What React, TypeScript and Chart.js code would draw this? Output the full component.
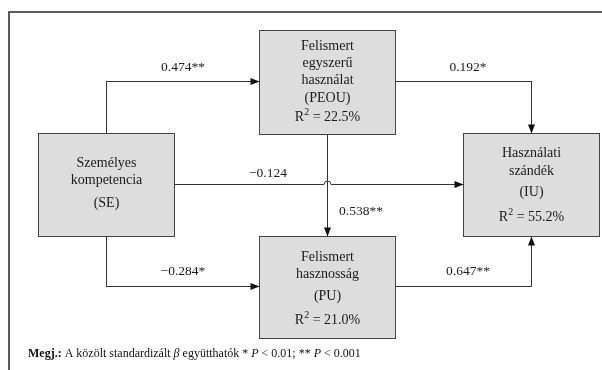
import React, { useEffect, useRef } from "react";
import { Chart, registerables } from "chart.js";

Chart.register(...registerables);

// ---- data ----
const nodeCodes = ["SE", "PEOU", "PU", "IU"];
const nodeNames = [
  ["Személyes", "kompetencia"],
  ["Felismert", "egyszerű", "használat"],
  ["Felismert", "hasznosság"],
  ["Használati", "szándék"],
];
const rSquared: (number | null)[] = [null, 22.5, 21.0, 55.2];

const pathFrom = ["SE", "SE", "SE", "PEOU", "PEOU", "PU"];
const pathTo = ["PEOU", "PU", "IU", "IU", "PU", "IU"];
const pathBeta = [0.474, -0.284, -0.124, 0.192, 0.538, 0.647];
const pathStars = ["**", "*", "", "*", "**", "**"];

const noteBold = "Megj.:";
const noteParts: [string, boolean][] = [
  [" A közölt standardizált ", false],
  ["β", true],
  [" együtthatók * ", false],
  ["P", true],
  [" < 0.01; ** ", false],
  ["P", true],
  [" < 0.001", false],
];

// ---- layout (positions in diagram units, kept separate from data) ----
const boxLayout: Record<string, { x: number; y: number; w: number; h: number; lines: number[] }> = {
  SE: { x: 38.5, y: 133.5, w: 136, h: 103, lines: [163, 180, 203] },
  PEOU: { x: 259.5, y: 30.5, w: 136, h: 104, lines: [46, 63, 80, 98, 117] },
  PU: { x: 259.5, y: 236.5, w: 136, h: 102, lines: [257, 274, 296, 320] },
  IU: { x: 463.5, y: 133.5, w: 136, h: 103, lines: [153, 171, 192, 217] },
};
const routes: { x: number; y: number }[][] = [
  [{ x: 106.5, y: 133.5 }, { x: 106.5, y: 81.5 }, { x: 259.5, y: 81.5 }],
  [{ x: 106.5, y: 236.5 }, { x: 106.5, y: 286.5 }, { x: 259.5, y: 286.5 }],
  [{ x: 174.5, y: 184.5 }, { x: 463.5, y: 184.5 }],
  [{ x: 395.5, y: 81.5 }, { x: 531.5, y: 81.5 }, { x: 531.5, y: 133.5 }],
  [{ x: 327.5, y: 134.5 }, { x: 327.5, y: 236.5 }],
  [{ x: 395.5, y: 286.5 }, { x: 531.5, y: 286.5 }, { x: 531.5, y: 236.5 }],
];
const labelPos = [
  { x: 183, y: 67 },
  { x: 183, y: 271 },
  { x: 268, y: 173 },
  { x: 468, y: 67 },
  { x: 361, y: 211 },
  { x: 468, y: 271 },
];
const hop = { x: 327.5, y: 184.5, r: 3.5 };
const notePos = { x: 28, y: 354 };

const FONT = "'Liberation Serif', 'Times New Roman', serif";
const BOX_FONT = 14;
const LABEL_FONT = 13.5;

function fmtBeta(v: number) {
  const s = Math.abs(v).toFixed(3);
  return (v < 0 ? "\u2212" : "") + s;
}

function routeData(i: number) {
  const r = routes[i];
  if (pathFrom[i] === "SE" && pathTo[i] === "IU") {
    return [
      r[0],
      { x: hop.x - hop.r, y: r[0].y },
      { x: hop.x, y: null as any },
      { x: hop.x + hop.r, y: r[1].y },
      r[1],
    ];
  }
  return r;
}

const diagramPlugin = {
  id: "pathDiagram",
  beforeDatasetsDraw(chart: any) {
    const { ctx, scales } = chart;
    const X = (v: number) => scales.x.getPixelForValue(v);
    const Y = (v: number) => scales.y.getPixelForValue(v);
    ctx.save();
    ctx.strokeStyle = "#5a5a5a";
    ctx.lineWidth = 2;
    ctx.strokeRect(X(9), Y(12), X(800) - X(9), Y(600) - Y(12));
    nodeCodes.forEach((code, i) => {
      const b = boxLayout[code];
      ctx.fillStyle = "#dddddd";
      ctx.fillRect(X(b.x), Y(b.y), X(b.x + b.w) - X(b.x), Y(b.y + b.h) - Y(b.y));
      ctx.strokeStyle = "#444444";
      ctx.lineWidth = 1;
      ctx.strokeRect(X(b.x), Y(b.y), X(b.x + b.w) - X(b.x), Y(b.y + b.h) - Y(b.y));
      const cx = X(b.x + b.w / 2);
      ctx.fillStyle = "#1a1a1a";
      ctx.textAlign = "center";
      ctx.textBaseline = "middle";
      ctx.font = `${BOX_FONT}px ${FONT}`;
      const lines = [...nodeNames[i], `(${code})`];
      lines.forEach((t, k) => ctx.fillText(t, cx, Y(b.lines[k])));
      const r2 = rSquared[i];
      if (r2 !== null) {
        const yy = Y(b.lines[lines.length]);
        const a = "R";
        const sup = "2";
        const rest = ` = ${r2.toFixed(1)}%`;
        ctx.font = `${BOX_FONT}px ${FONT}`;
        const wa = ctx.measureText(a).width;
        const wr = ctx.measureText(rest).width;
        ctx.font = `10px ${FONT}`;
        const ws = ctx.measureText(sup).width;
        let sx = cx - (wa + ws + wr) / 2;
        ctx.textAlign = "left";
        ctx.font = `${BOX_FONT}px ${FONT}`;
        ctx.fillText(a, sx, yy);
        sx += wa;
        ctx.font = `10px ${FONT}`;
        ctx.fillText(sup, sx, yy - 5);
        sx += ws;
        ctx.font = `${BOX_FONT}px ${FONT}`;
        ctx.fillText(rest, sx, yy);
      }
    });
    ctx.restore();
  },
  afterDatasetsDraw(chart: any) {
    const { ctx, scales } = chart;
    const X = (v: number) => scales.x.getPixelForValue(v);
    const Y = (v: number) => scales.y.getPixelForValue(v);
    ctx.save();
    ctx.strokeStyle = "#333333";
    ctx.lineWidth = 1;
    ctx.beginPath();
    ctx.arc(X(hop.x), Y(hop.y), hop.r, Math.PI, 0);
    ctx.stroke();
    routes.forEach((r) => {
      const p = r[r.length - 1];
      const q = r[r.length - 2];
      const px = X(p.x), py = Y(p.y), qx = X(q.x), qy = Y(q.y);
      const ang = Math.atan2(py - qy, px - qx);
      const len = 9, hw = 3.5;
      ctx.fillStyle = "#111111";
      ctx.beginPath();
      ctx.moveTo(px, py);
      ctx.lineTo(px - len * Math.cos(ang) + hw * Math.sin(ang), py - len * Math.sin(ang) - hw * Math.cos(ang));
      ctx.lineTo(px - len * Math.cos(ang) - hw * Math.sin(ang), py - len * Math.sin(ang) + hw * Math.cos(ang));
      ctx.closePath();
      ctx.fill();
    });
    ctx.fillStyle = "#1a1a1a";
    ctx.textAlign = "center";
    ctx.textBaseline = "middle";
    ctx.font = `${LABEL_FONT}px ${FONT}`;
    pathBeta.forEach((b, i) => {
      ctx.fillText(fmtBeta(b) + pathStars[i], X(labelPos[i].x), Y(labelPos[i].y));
    });
    let nx = X(notePos.x);
    const ny = Y(notePos.y);
    ctx.textAlign = "left";
    ctx.fillStyle = "#111111";
    ctx.font = `bold 12px ${FONT}`;
    ctx.fillText(noteBold, nx, ny);
    nx += ctx.measureText(noteBold).width;
    noteParts.forEach(([t, it]) => {
      ctx.font = `${it ? "italic " : ""}12px ${FONT}`;
      ctx.fillText(t, nx, ny);
      nx += ctx.measureText(t).width;
    });
    ctx.restore();
  },
};

export default function App() {
  const ref = useRef<HTMLCanvasElement | null>(null);
  useEffect(() => {
    if (!ref.current) return;
    const chart = new Chart(ref.current, {
      type: "scatter",
      data: {
        datasets: routes.map((_, i) => ({
          label: `${pathFrom[i]}→${pathTo[i]}`,
          data: routeData(i) as any,
          showLine: true,
          spanGaps: false,
          borderColor: "#333333",
          borderWidth: 1,
          pointRadius: 0,
          tension: 0,
        })),
      },
      options: {
        animation: false,
        responsive: false,
        events: [],
        layout: { padding: 0 },
        plugins: { legend: { display: false }, tooltip: { enabled: false } },
        scales: {
          x: { type: "linear", min: 0, max: 602, display: false },
          y: { type: "linear", min: 0, max: 370, reverse: true, display: false },
        },
      },
      plugins: [diagramPlugin],
    });
    return () => chart.destroy();
  }, []);
  return (
    <div style={{ position: "fixed", left: 0, top: 0, width: 602, height: 370, background: "#fff" }}>
      <canvas ref={ref} width={602} height={370} />
    </div>
  );
}
